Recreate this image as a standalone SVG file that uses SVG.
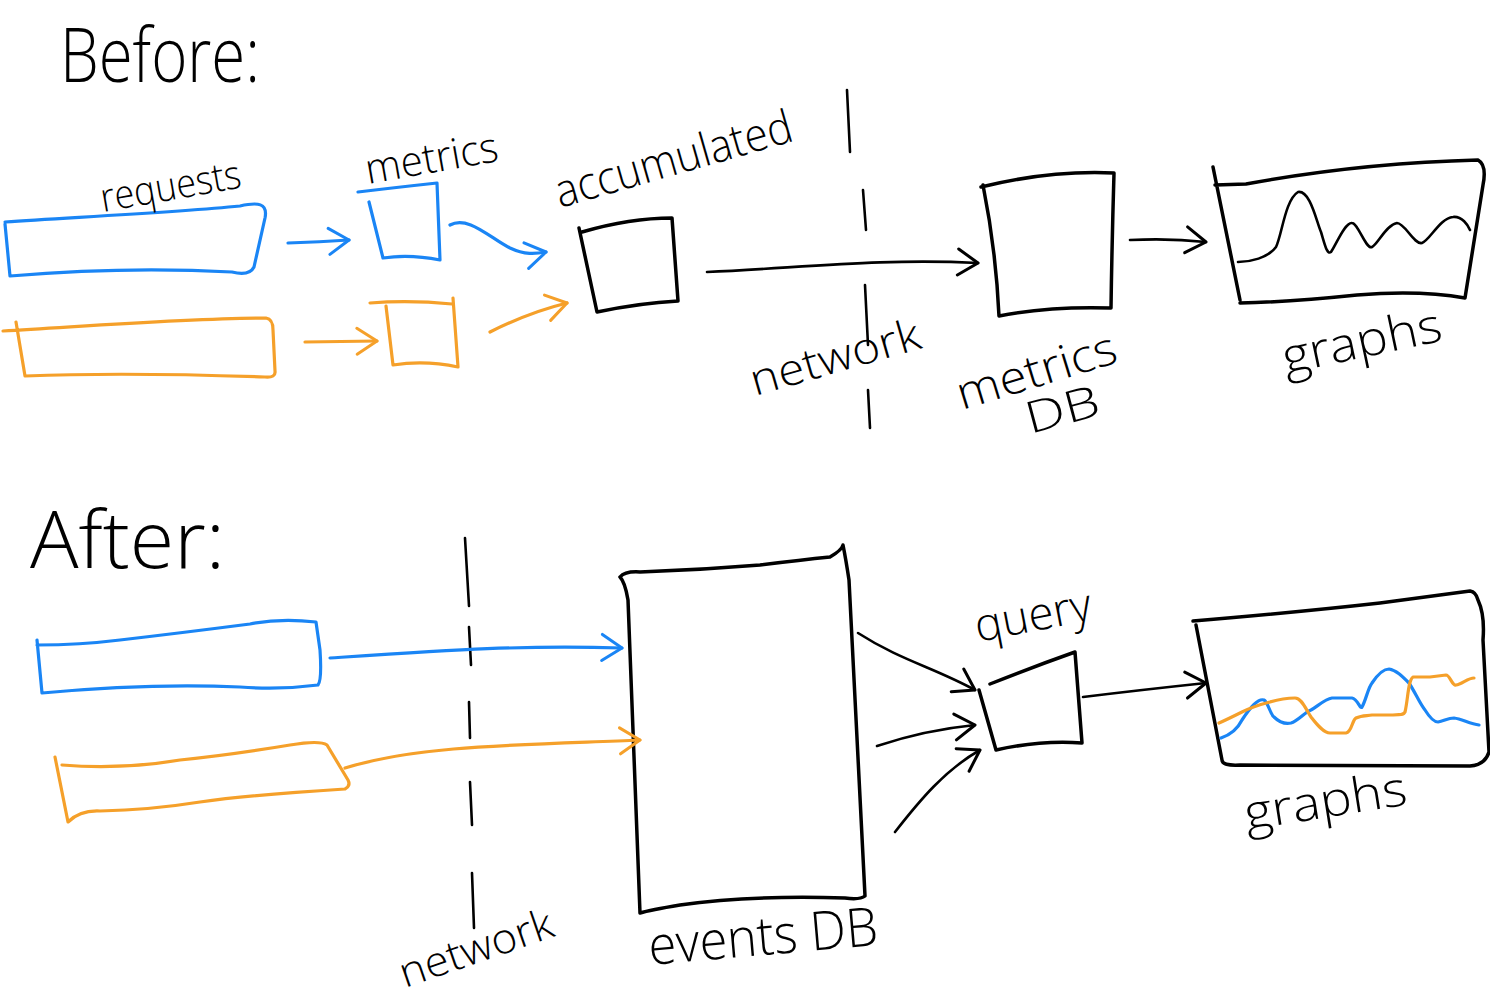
<svg xmlns="http://www.w3.org/2000/svg" width="1490" height="1000" viewBox="0 0 1490 1000">
<style>
  .ink{fill:none;stroke:#000;stroke-width:3.5;stroke-linecap:round;stroke-linejoin:round}
  .blue{fill:none;stroke:#1a85f5;stroke-width:3.2;stroke-linecap:round;stroke-linejoin:round}
  .orange{fill:none;stroke:#f5a02a;stroke-width:3.2;stroke-linecap:round;stroke-linejoin:round}
  .thin{stroke-width:2.6}
  .hand{font-family:"Open Sans","Liberation Sans",sans-serif;font-weight:300;fill:#000}
</style>
<defs>
  <marker id="ah-black" viewBox="0 0 26 32" refX="23" refY="16" markerWidth="26" markerHeight="32" markerUnits="userSpaceOnUse" orient="auto">
    <path d="M3,3 L23,16 L3,29" fill="none" stroke="#000" stroke-width="3" stroke-linecap="round" stroke-linejoin="round"/>
  </marker>
  <marker id="ah-blue" viewBox="0 0 26 32" refX="23" refY="16" markerWidth="26" markerHeight="32" markerUnits="userSpaceOnUse" orient="auto">
    <path d="M3,3 L23,16 L3,29" fill="none" stroke="#1a85f5" stroke-width="3" stroke-linecap="round" stroke-linejoin="round"/>
  </marker>
  <marker id="ah-orange" viewBox="0 0 26 32" refX="23" refY="16" markerWidth="26" markerHeight="32" markerUnits="userSpaceOnUse" orient="auto">
    <path d="M3,3 L23,16 L3,29" fill="none" stroke="#f5a02a" stroke-width="3" stroke-linecap="round" stroke-linejoin="round"/>
  </marker>
</defs>
<rect width="1490" height="1000" fill="#fff"/>

<!-- Titles -->
<text class="hand" x="60" y="82" font-size="76" textLength="200" lengthAdjust="spacingAndGlyphs">Before:</text>
<text class="hand" x="30" y="568" font-size="80" textLength="195" lengthAdjust="spacingAndGlyphs">After:</text>

<!-- Network boundaries -->
<g id="network-before">
  <path class="ink thin" d="M847,90 L850,152 M863,190 L866,230 M865,285 L868,345 M868,390 L870,428"/>
  <text class="hand" x="755" y="396" font-size="44" textLength="175" lengthAdjust="spacingAndGlyphs" transform="rotate(-16 755 396)">network</text>
</g>
<g id="network-after">
  <path class="ink thin" d="M465,538 L469,606 M469,627 L471,665 M469,702 L470,738 M470,782 L472,825 M472,873 L474,928"/>
  <text class="hand" x="405" y="988" font-size="42" textLength="160" lengthAdjust="spacingAndGlyphs" transform="rotate(-19 405 988)">network</text>
</g>

<!-- BEFORE nodes -->
<g id="requests-blue-before">
  <path class="blue" d="M5,222 C80,217 180,212 240,206 C258,202 268,203 265,218 L254,267 C250,275 240,274 232,272 C160,268 80,270 10,276 L5,224"/>
  <text class="hand" x="103" y="212" font-size="40" textLength="142" lengthAdjust="spacingAndGlyphs" transform="rotate(-10 103 212)">requests</text>
</g>
<g id="requests-orange-before">
  <path class="orange" d="M3,331 C90,326 190,318 266,318 Q273,319 273,330 L275,371 Q276,378 265,377 C180,374 100,373 25,376 L16,322"/>
</g>
<g id="metrics-blue-before">
  <path class="blue" d="M358,192 Q400,187 437,183 L440,260 Q410,254 383,258 L369,202"/>
  <text class="hand" x="368" y="184" font-size="42" textLength="134" lengthAdjust="spacingAndGlyphs" transform="rotate(-10 368 184)">metrics</text>
</g>
<g id="metrics-orange-before">
  <path class="orange" d="M370,303 Q410,300 452,304 M453,298 L458,367 Q425,360 393,365 L386,306"/>
</g>
<g id="accumulated">
  <path class="ink" d="M582,232 Q630,218 672,218 L678,301 Q640,303 597,312 L579,228"/>
  <text class="hand" x="560" y="208" font-size="46" textLength="245" lengthAdjust="spacingAndGlyphs" transform="rotate(-16 560 208)">accumulated</text>
</g>
<g id="metrics-db">
  <path class="ink" d="M981,187 Q1050,170 1114,173 Q1112,240 1111,308 Q1050,306 999,316 Q996,250 983,185"/>
  <text class="hand" x="962" y="410" font-size="46" textLength="165" lengthAdjust="spacingAndGlyphs" transform="rotate(-17 962 410)">metrics</text>
  <text class="hand" x="1030" y="434" font-size="44" textLength="75" lengthAdjust="spacingAndGlyphs" transform="rotate(-15 1030 434)">DB</text>
</g>
<g id="graphs-before">
  <path class="ink" d="M1213,167 L1240,300 M1215,185 L1246,184 Q1360,163 1478,160 Q1487,165 1483,185 L1465,298 Q1420,290 1357,295 Q1290,302 1240,303"/>
  <path class="ink thin" d="M1238,262 C1250,262 1268,258 1276,247 C1282,235 1285,200 1298,192 C1310,190 1316,220 1321,232 C1325,245 1327,255 1331,252 C1336,245 1345,222 1352,223 C1358,223 1366,250 1372,247 C1378,244 1386,225 1397,223 C1405,223 1414,245 1422,243 C1430,240 1440,218 1453,217 C1462,216 1468,225 1470,230"/>
  <text class="hand" x="1286" y="374" font-size="48" textLength="162" lengthAdjust="spacingAndGlyphs" transform="rotate(-12 1286 374)">graphs</text>
</g>

<!-- AFTER nodes -->
<g id="requests-blue-after">
  <path class="blue" d="M37,640 L42,693 Q150,683 240,687 Q280,690 318,685 Q322,680 320,650 L316,622 Q280,618 250,624 Q180,633 120,640 Q80,645 37,645"/>
</g>
<g id="requests-orange-after">
  <path class="orange" d="M55,757 L68,822 Q80,810 100,811 Q150,810 200,802 Q250,795 345,789 Q351,786 348,780 L327,745 Q320,740 290,745 Q230,755 180,760 Q120,770 62,765"/>
</g>
<g id="events-db">
  <path class="ink" d="M620,577 Q625,571 640,572 Q700,570 760,565 Q800,560 830,557 Q842,550 843,545 Q846,560 849,580 L865,896 Q860,900 845,898 Q750,895 680,905 Q650,910 640,913 L628,600 Q625,582 620,577"/>
  <text class="hand" x="650" y="965" font-size="54" textLength="230" lengthAdjust="spacingAndGlyphs" transform="rotate(-5 650 965)">events DB</text>
</g>
<g id="query">
  <path class="ink" d="M990,684 Q1030,668 1075,652 L1082,743 Q1040,740 996,750 L979,690"/>
  <text class="hand" x="978" y="642" font-size="46" textLength="118" lengthAdjust="spacingAndGlyphs" transform="rotate(-11 978 642)">query</text>
</g>
<g id="graphs-after">
  <path class="ink" d="M1193,621 Q1300,612 1380,603 Q1440,595 1470,591 Q1476,592 1478,600 Q1485,615 1483,640 L1489,752 Q1485,765 1470,766 L1240,765 Q1222,766 1222,760 L1196,625"/>
  <path class="blue" d="M1221,738 C1230,735 1238,728 1242,720 C1250,708 1258,698 1264,700 C1268,702 1270,714 1274,717 C1280,723 1286,724 1291,723 C1298,721 1305,712 1311,710 C1318,706 1325,699 1332,698 L1352,698 C1358,699 1360,710 1362,707 C1366,700 1368,688 1372,683 C1378,674 1384,669 1389,669 C1396,670 1402,676 1409,683 C1415,692 1420,704 1425,710 C1430,718 1434,722 1438,722 C1444,721 1448,718 1454,718 C1462,719 1470,724 1479,725"/>
  <path class="orange" d="M1219,723 C1226,720 1234,716 1242,712 C1252,707 1262,704 1270,702 C1280,699 1288,698 1295,698 C1302,698 1306,710 1311,717 C1318,726 1324,733 1330,733 L1346,733 C1352,732 1352,720 1356,718 C1362,715 1367,716 1372,715 L1393,715 C1400,714 1403,716 1405,712 C1408,700 1408,680 1413,677 L1430,677 L1446,675 C1450,675 1452,686 1456,685 C1462,684 1468,678 1474,678"/>
  <text class="hand" x="1247" y="830" font-size="48" textLength="164" lengthAdjust="spacingAndGlyphs" transform="rotate(-9 1247 830)">graphs</text>
</g>

<!-- Connectors -->
<g id="connectors">
  <path class="blue" d="M288,243 Q320,242 349,240" marker-end="url(#ah-blue)"/>
  <path class="blue" d="M450,225 C468,215 490,238 510,248 C525,255 535,254 546,252" marker-end="url(#ah-blue)"/>
  <path class="orange" d="M305,342 L377,341" marker-end="url(#ah-orange)"/>
  <path class="orange" d="M490,332 Q530,312 567,303" marker-end="url(#ah-orange)"/>
  <path class="ink thin" d="M707,272 C800,268 880,258 978,263" marker-end="url(#ah-black)"/>
  <path class="ink thin" d="M1130,240 Q1170,238 1206,242" marker-end="url(#ah-black)"/>
  <path class="blue" d="M330,658 C450,650 520,645 622,648" marker-end="url(#ah-blue)"/>
  <path class="orange" d="M345,768 C420,745 520,745 640,740" marker-end="url(#ah-orange)"/>
  <path class="ink thin" d="M858,633 C900,660 935,668 975,690" marker-end="url(#ah-black)"/>
  <path class="ink thin" d="M877,746 Q925,730 975,725" marker-end="url(#ah-black)"/>
  <path class="ink thin" d="M895,832 C920,800 945,770 980,750" marker-end="url(#ah-black)"/>
  <path class="ink thin" d="M1083,697 Q1140,690 1206,683" marker-end="url(#ah-black)"/>
</g>
</svg>
